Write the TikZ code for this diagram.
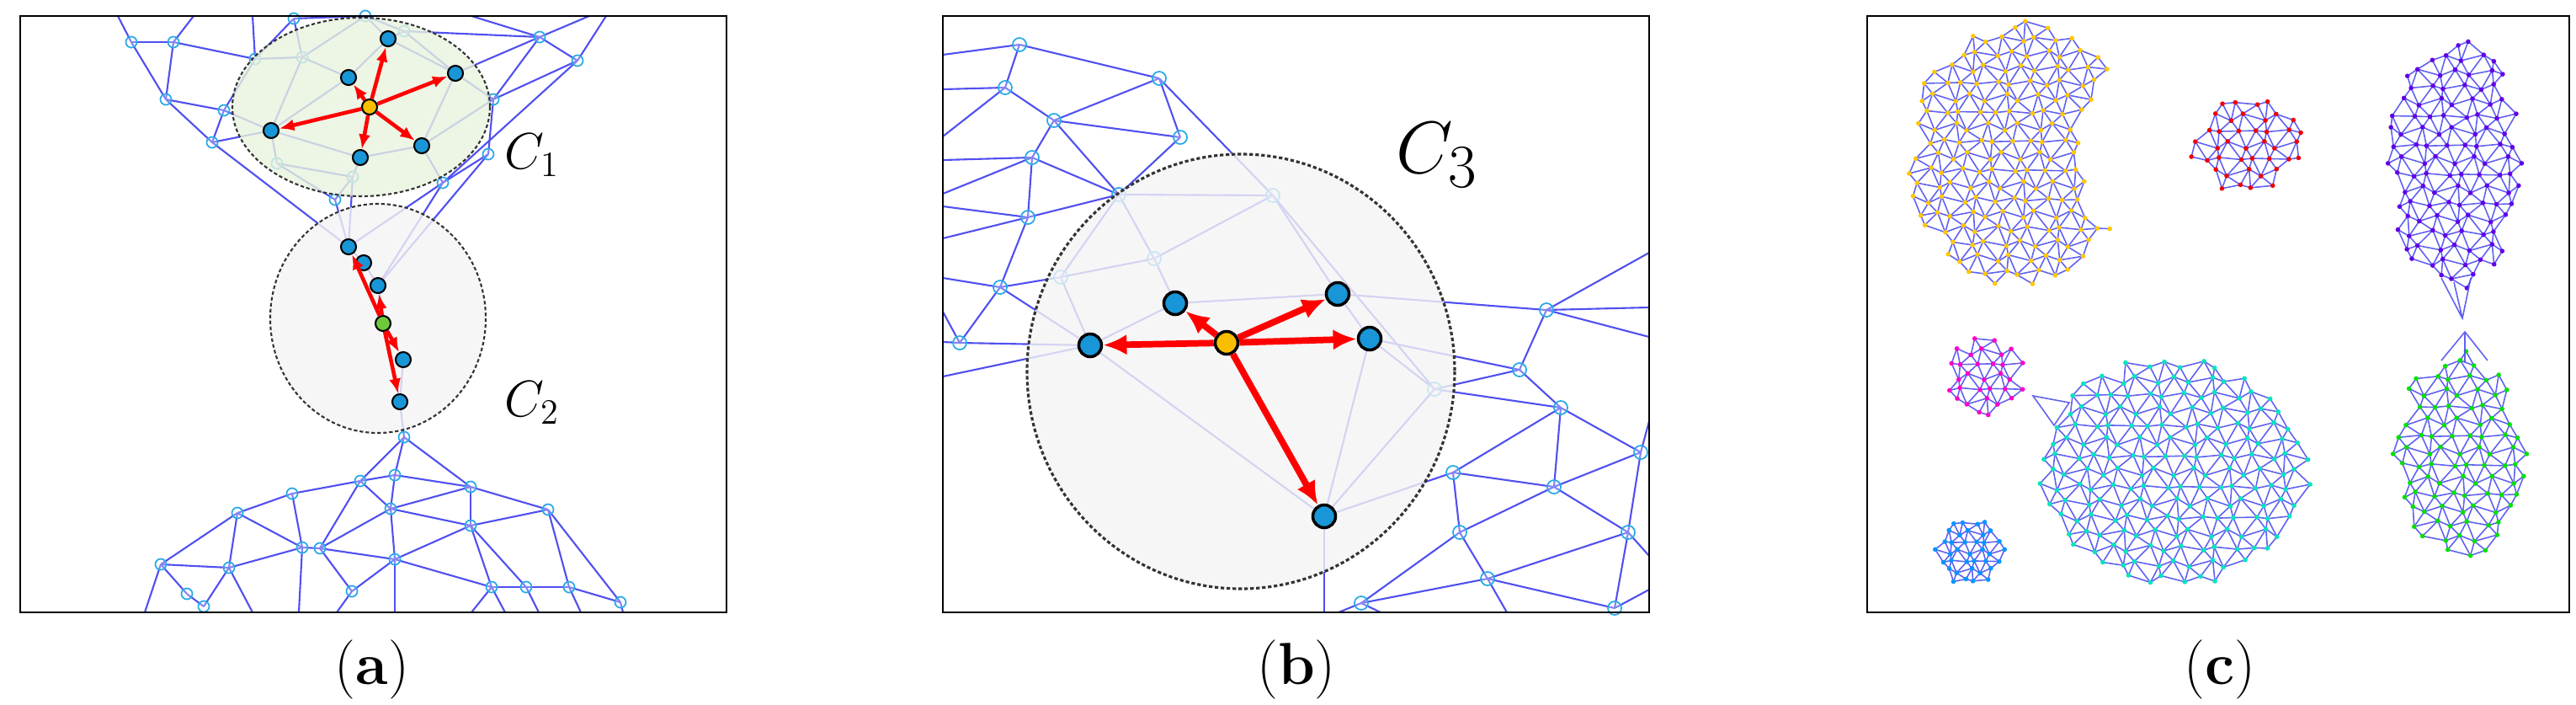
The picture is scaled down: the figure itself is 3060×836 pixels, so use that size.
\documentclass[tikz,border=0pt]{standalone}
\usepackage{amsmath}
\usetikzlibrary{arrows.meta}
\definecolor{meshblue}{RGB}{80,80,240}
\definecolor{vtxcyan}{RGB}{40,170,230}
\definecolor{ptblue}{RGB}{25,150,215}
\definecolor{ptorange}{RGB}{250,190,0}
\definecolor{ptgreen}{RGB}{110,200,60}
\definecolor{cgreen}{RGB}{232,243,222}
\definecolor{cgray}{RGB}{244,244,244}
\definecolor{dyellow}{RGB}{255,200,0}
\definecolor{dred}{RGB}{240,0,0}
\definecolor{dpurple}{RGB}{100,0,230}
\definecolor{dmagenta}{RGB}{255,0,200}
\definecolor{dcyan}{RGB}{0,230,190}
\definecolor{dblue}{RGB}{0,150,255}
\definecolor{dgreen}{RGB}{0,225,0}
\tikzset{
  mesh/.style={draw=meshblue, line width=0.6pt},
  mv/.style={circle, draw=vtxcyan, fill=white, fill opacity=0.3, minimum size=0.13cm, inner sep=0pt, line width=0.5pt},
  clu/.style={dash pattern=on 1.2pt off 0.8pt, line width=0.6pt, draw=black!80},
  pt/.style={circle, draw=black, line width=0.6pt, fill=ptblue, minimum size=#1, inner sep=0pt},
  pt/.default=0.18cm,
  hop/.style={-{Latex[length=5pt,width=4pt]}, red, line width=1.3pt},
  bighop/.style={-{Latex[length=8pt,width=7pt]}, red, line width=2.2pt},
  cmesh/.style={draw=meshblue, line width=0.45pt, opacity=0.9},
  tag/.style={font=\fontsize{20}{24}\selectfont}
}
% lattice point (i,j) of the current blob
\newcommand\meshpt[2]{%
  \pgfmathsetmacro\mx{\mcx+((#1)+0.5*mod(abs(#2),2))*\ms+0.22*\ms*sin(137*(#1)+211*(#2))}%
  \pgfmathsetmacro\my{\mcy+(#2)*\ms*0.866+0.22*\ms*cos(173*(#1)+97*(#2))}%
  \pgfmathtruncatemacro\mok{\mtest}}
% cx cy ni nj spacing test dotcolour
\newcommand\meshblob[7]{%
  \def\mcx{#1}\def\mcy{#2}\def\ms{#5}\def\mtest{#6}%
  \foreach \i in {-#3,...,#3}{\foreach \j in {-#4,...,#4}{%
    \meshpt{\i}{\j}%
    \ifnum\mok=1
      \edef\ax{\mx}\edef\ay{\my}%
      \meshpt{\i+1}{\j}%
      \ifnum\mok=1 \draw[cmesh] (\ax,\ay) -- (\mx,\my);\fi
      \pgfmathtruncatemacro\ia{\i-1+mod(abs(\j),2)}%
      \pgfmathtruncatemacro\ib{\i+mod(abs(\j),2)}%
      \meshpt{\ia}{\j+1}%
      \ifnum\mok=1 \draw[cmesh] (\ax,\ay) -- (\mx,\my);\fi
      \meshpt{\ib}{\j+1}%
      \ifnum\mok=1 \draw[cmesh] (\ax,\ay) -- (\mx,\my);\fi
    \fi}}%
  \foreach \i in {-#3,...,#3}{\foreach \j in {-#4,...,#4}{%
    \meshpt{\i}{\j}%
    \ifnum\mok=1 \fill[#7] (\mx,\my) circle (2.8);\fi}}}

\begin{document}
\begin{tikzpicture}[x=0.01cm, y=-0.01cm]
\useasboundingbox (0,0) rectangle (3060,836);

% ---------- (a)
\foreach \n/\p in {t1/{156,50}, t2/{206,50}, t3/{197,118}, t4/{266,131}, t5/{252,169},
  t6/{303,70}, t7/{359,68}, t8/{480,37}, t9/{641,44}, t10/{686,72}, t11/{586,118},
  t12/{580,183}, t13/{526,217}, t14/{398,237}, t15/{419,210}, t16/{329,194},
  t17/{349,22}, t18/{434,19},
  b1/{480,519}, b2/{469,564}, b3/{428,571}, b4/{559,578}, b5/{347,586}, b6/{282,609},
  b7/{464,604}, b8/{651,605}, b9/{559,624}, b10/{359,650}, b11/{380,651}, b12/{469,664},
  b13/{191,670}, b14/{272,674}, b15/{418,702}, b16/{222,705}, b17/{242,720},
  b18/{584,697}, b19/{625,697}, b20/{676,697}, b21/{737,715}}
  \coordinate (\n) at (\p);
\foreach \n/\p in {u1/{140,19}, u2/{230,19}, u3/{300,19}, u4/{560,19}, u5/{700,19}, u6/{720,19},
  w1/{172,727}, w2/{300,727}, w3/{355,727}, w4/{400,727}, w5/{469,727}, w6/{560,727},
  w7/{600,727}, w8/{640,727}, w9/{690,727}, w10/{740,727}}
  \coordinate (\n) at (\p);
\coordinate (a1) at (461,46); \coordinate (a2) at (414,92); \coordinate (a3) at (541,87);
\coordinate (a4) at (322,155); \coordinate (a5) at (428,187); \coordinate (a6) at (501,173);
\coordinate (c1) at (414,293); \coordinate (c2) at (432,312); \coordinate (c3) at (449,339);
\coordinate (c4) at (479,427); \coordinate (c5) at (475,477); \coordinate (cg) at (455,384);

\foreach \u/\v in {t1/t2, t1/t3, t2/t3, t2/t6, t3/t4, t3/t5, t4/t5, t4/t6, t4/a4, t5/a4,
  t5/c1, t6/t7, t6/t17, t7/t17, t7/t18, t7/a2, t17/t18, t18/a1, t18/t8, t8/a1, t8/a3,
  t8/t9, t9/t10, t9/t11, t9/a3, t10/t11, t10/t13, t11/t12, t11/a3, t12/t13, t13/a6,
  a3/a6, a6/a5, a5/t15, t15/t16, t16/a4, t16/t14, t15/t14, a2/a4, a5/a4, a2/a1, a3/a1,
  a6/t11, t7/a4, t1/u1, t2/u2, t6/u3, t9/u4, t9/u5, t10/u6,
  t14/c1, t15/c1, t13/c3, t12/c3, c1/c2, c2/c3, c3/c5, c4/c5, c5/b1, t13/c1,
  b1/b2, b1/b3, b1/b4, b2/b3, b2/b4, b2/b7, b3/b5, b3/b7, b3/b11, b5/b6, b5/b10,
  b6/b10, b6/b13, b6/b14, b4/b7, b4/b8, b4/b9, b7/b9, b7/b12, b7/b11, b8/b9, b8/b20,
  b8/b21, b9/b12, b9/b18, b9/b19, b10/b11, b10/b14, b10/w3, b11/b12, b11/b15, b12/b18,
  b12/b15, b12/w5, b13/b14, b13/b16, b13/w1, b14/b17, b14/w2, b15/w4, b16/b17,
  b18/b19, b19/b20, b20/b21, b18/w6, b18/w7, b19/w8, b20/w9, b21/w10}
  \draw[mesh] (\u) -- (\v);
\foreach \n in {t1,t2,t3,t4,t5,t6,t7,t8,t9,t10,t11,t12,t13,t14,t15,t16,t17,t18,
  b1,b2,b3,b4,b5,b6,b7,b8,b9,b10,b11,b12,b13,b14,b15,b16,b17,b18,b19,b20,b21}
  \node[mv] at (\n) {};

\draw[clu, fill=cgreen, fill opacity=0.8] (429,127) ellipse [x radius=153, y radius=106];
\draw[clu, fill=cgray, fill opacity=0.8] (449,378) ellipse [x radius=128, y radius=136];

\foreach \n in {a1,a2,a3,a4,a5,a6} \node[pt] (n\n) at (\n) {};
\node[pt, fill=ptorange] (a0) at (439,127) {};
\foreach \n in {a1,a2,a3,a4,a5,a6} \draw[hop] (a0) -- (n\n);
\foreach \n in {c1,c2,c3,c4,c5} \node[pt] (n\n) at (\n) {};
\node[pt, fill=ptgreen] (g0) at (cg) {};
\foreach \n in {c1,c3,c4,c5} \draw[hop] (g0) -- (n\n);
\node (lc1) at (632,184) {\fontsize{17}{20}\selectfont$C_1$};
\node (lc2) at (632,478) {\fontsize{17}{20}\selectfont$C_2$};
\draw[line width=0.6pt] (24,19) rectangle (863,727);
\node[tag] (ta) at (442,795) {(\textbf{a})};

% ---------- (b)
\foreach \n/\p in {p1/{1211,53}, p2/{1194,104}, p3/{1252,143}, p4/{1377,93}, p5/{1402,163},
  p6/{1226,187}, p7/{1329,231}, p8/{1221,258}, p9/{1188,341}, p10/{1140,407},
  p11/{1512,232}, p12/{1371,307}, p13/{1260,329}, p14/{1704,462}, p15/{1805,439},
  p16/{1837,368}, p17/{1854,484}, p18/{1949,537}, p19/{1726,561}, p20/{1846,578},
  p21/{1734,632}, p22/{1934,632}, p23/{1767,687}, p24/{1617,716}, p25/{1918,722},
  q1/{1295,410}, q2/{1396,360}, q3/{1589,349}, q4/{1627,402}, q5/{1573,613},
  l1/{1120,65}, l2/{1120,106}, l3/{1120,162}, l4/{1120,190}, l5/{1120,230}, l6/{1120,245},
  l7/{1120,283}, l8/{1120,330}, l9/{1120,370}, l10/{1120,406}, l11/{1120,447},
  r1/{1959,300}, r2/{1959,365}, r3/{1959,400}, r4/{1959,500}, r5/{1959,660}, r6/{1959,700},
  d1/{1573,727}, d2/{1590,727}, d3/{1640,727}, d4/{1790,727}}
  \coordinate (\n) at (\p);
\foreach \u/\v in {p1/p2, p1/p4, p1/l1, p2/p3, p2/l2, p2/l3, p3/p4, p3/p5, p3/p6, p3/p7,
  p4/p5, p4/p11, p5/p7, p6/p7, p6/p8, p6/l4, p6/l5, p7/p8, p7/p12, p7/p11, p7/p13,
  p8/p9, p8/l6, p8/l7, p9/p10, p9/p13, p9/l8, p9/q1, p10/l10, p10/q1, p10/l9, l11/q1,
  p13/p12, p13/q1, p12/q2, p12/p11, p11/q3, p11/p14, q2/q3, q3/p16, q3/q4, q4/q5,
  q4/p14, q1/q2, q1/q5, q5/p14, q5/p19, q5/d1, q4/p15, p14/p15, p14/p17, p15/p16,
  p15/p17, p16/r1, p16/r2, p16/r3, p17/p18, p17/p19, p17/p20, p18/p20, p18/p22, p18/r4,
  p19/p20, p19/p21, p20/p21, p20/p22, p21/p23, p21/p24, p22/p23, p22/p25, p22/r5,
  p23/p24, p23/p25, p24/d2, p24/d3, p23/d4, p25/r6}
  \draw[mesh] (\u) -- (\v);
\foreach \n in {p1,p2,p3,p4,p5,p6,p7,p8,p9,p10,p11,p12,p13,p14,p15,p16,p17,p18,p19,
  p20,p21,p22,p23,p24,p25}
  \node[mv, minimum size=0.16cm] at (\n) {};

\draw[clu, line width=0.9pt, fill=cgray, fill opacity=0.8] (1474,441) ellipse [x radius=254, y radius=258];
\foreach \n in {q1,q2,q3,q4,q5} \node[pt=0.27cm, line width=1pt] (n\n) at (\n) {};
\node[pt=0.27cm, line width=1pt, fill=ptorange] (q0) at (1457,407) {};
\foreach \n in {q1,q2,q3,q4,q5} \draw[bighop] (q0) -- (n\n);
\node (lc3) at (1707,184) {\fontsize{28}{32}\selectfont$C_3$};
\draw[line width=0.6pt] (1120,19) rectangle (1959,727);
\node[tag] (tb) at (1540,795) {(\textbf{b})};

% ---------- (c)
\meshblob{2400}{185}{8}{11}{20}{(((\mx-2400)/135)^2+((\my-182)/160)^2<=1) && (((\mx-2610)/140)^2+((\my-175)/130)^2>1)}{dyellow}
\meshblob{2668}{172}{5}{4}{19}{((\mx-2668)/70)^2+((\my-172)/58)^2<=1}{dred}
\meshblob{2916}{190}{5}{9}{20}{((\mx-2916)/82)^2+((\my-195)/150)^2<=1}{dpurple}
\draw[cmesh] (2900,330) -- (2925,378) -- (2935,330) (2915,335) -- (2925,378);
\meshblob{2357}{447}{4}{4}{17}{((\mx-2357)/52)^2+((\my-447)/47)^2<=1}{dmagenta}
\meshblob{2582}{560}{9}{9}{21}{((\mx-2582)/166)^2+((\my-560)/138)^2<=1}{dcyan}
\draw[cmesh] (2415,470) -- (2458,478) -- (2440,505) -- cycle;
\meshblob{2340}{655}{4}{4}{13}{((\mx-2340)/44)^2+((\my-655)/41)^2<=1}{dblue}
\meshblob{2922}{535}{5}{8}{20}{((\mx-2922)/80)^2+((\my-540)/124)^2<=1}{dgreen}
\draw[cmesh] (2900,428) -- (2928,394) -- (2955,428) (2928,394) -- (2928,430);
\draw[line width=0.6pt] (2218,19) rectangle (3052,727);
\node[tag] (tc) at (2637,795) {(\textbf{c})};
\end{tikzpicture}
\end{document}
